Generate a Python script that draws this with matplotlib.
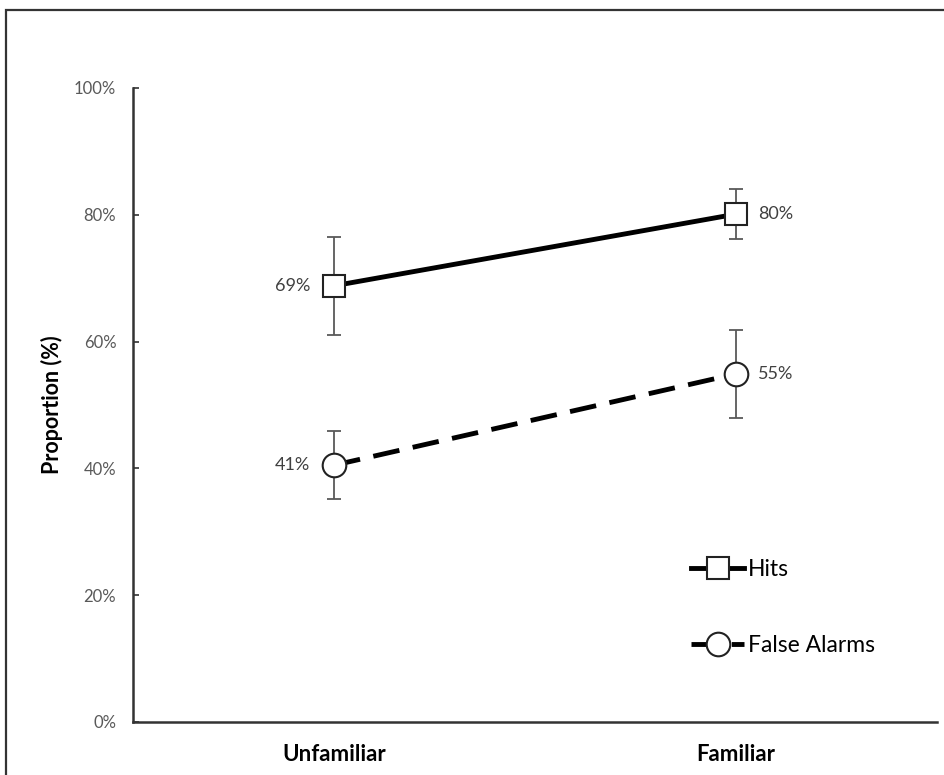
import matplotlib.pyplot as plt
from matplotlib.patches import Rectangle

plt.rcParams['font.family'] = ['Lato', 'DejaVu Sans']

conditions = ['Unfamiliar', 'Familiar']
hits = [0.688, 0.801]
hits_err = [0.077, 0.040]
false_alarms = [0.405, 0.549]
fa_err = [0.054, 0.069]
hits_labels = ['69%', '80%']
fa_labels = ['41%', '55%']
yticks = [0, 0.2, 0.4, 0.6, 0.8, 1.0]
ytick_labels = ['0%', '20%', '40%', '60%', '80%', '100%']

x = [0.5, 1.5]
grey = '#595959'

fig = plt.figure(figsize=(9.45, 7.75), dpi=100)
ax = fig.add_axes([0.1407, 0.0684, 0.8508, 0.8181])

# figure border (cut off on right/bottom like the original screenshot)
fig.add_artist(Rectangle((0.0063, -0.1), 1.2, 1.087, transform=fig.transFigure,
                         fill=False, edgecolor='#333333', linewidth=1.6))

ax.errorbar(x, hits, yerr=hits_err, fmt='none', ecolor=grey, elinewidth=1.3,
            capsize=5, capthick=1.3, zorder=1)
ax.errorbar(x, false_alarms, yerr=fa_err, fmt='none', ecolor=grey, elinewidth=1.3,
            capsize=5, capthick=1.3, zorder=1)

ax.plot(x, hits, color='black', linewidth=3.5, marker='s', markersize=16,
        markerfacecolor='white', markeredgecolor='#222222', markeredgewidth=1.5,
        label='Hits', zorder=3)
ax.plot(x, false_alarms, color='black', linewidth=3.5, linestyle=(0, (5.5, 2.8)),
        marker='o', markersize=17, markerfacecolor='white', markeredgecolor='#222222',
        markeredgewidth=1.5, label='False Alarms', zorder=3)

# data labels
lab_kw = dict(textcoords='offset points', va='center', fontsize=13, color='#404040')
ax.annotate(hits_labels[0], (x[0], hits[0]), xytext=(-17, 0), ha='right', **lab_kw)
ax.annotate(hits_labels[1], (x[1], hits[1]), xytext=(16, 0), ha='left', **lab_kw)
ax.annotate(fa_labels[0], (x[0], false_alarms[0]), xytext=(-17, 0), ha='right', **lab_kw)
ax.annotate(fa_labels[1], (x[1], false_alarms[1]), xytext=(16, 0), ha='left', **lab_kw)

ax.set_xlim(0, 2)
ax.set_ylim(0, 1.0)
ax.set_yticks(yticks)
ax.set_yticklabels(ytick_labels, fontsize=12, color=grey)
ax.set_xticks(x)
ax.set_xticklabels(conditions, fontsize=16, fontweight='bold', color='black')
ax.tick_params(axis='y', direction='in', length=4, width=1.2, color='#333333', pad=12)
ax.tick_params(axis='x', length=0, pad=16)
ax.set_ylabel('Proportion (%)', fontsize=15.5, fontweight='bold', labelpad=8)

for side in ['top', 'right']:
    ax.spines[side].set_visible(False)
for side in ['left', 'bottom']:
    ax.spines[side].set_linewidth(1.8)
    ax.spines[side].set_color('#333333')

ax.legend(loc='upper left', bbox_to_anchor=(0.669, 0.29), frameon=False, fontsize=16.5,
          handlelength=2.3, handletextpad=0.15, labelspacing=2.4)

fig.savefig('out.png', dpi=100)
